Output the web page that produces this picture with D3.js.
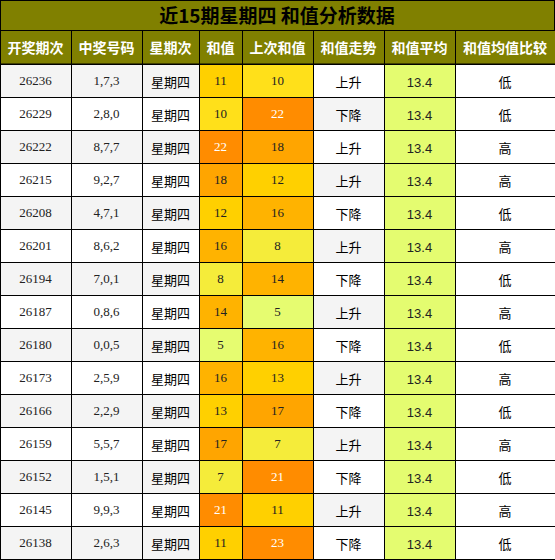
<!DOCTYPE html><html><head><meta charset="utf-8"><script src="https://cdn.jsdelivr.net/npm/d3@7"></script>
<style>body{margin:0;background:#fff}</style></head><body><svg id="c" width="555" height="560"></svg>
<script>
const title="近15期星期四 和值分析数据";
const headers=["开奖期次","中奖号码","星期次","和值","上次和值","和值走势","和值平均","和值均值比较"];
const issues=["26236","26229","26222","26215","26208","26201","26194","26187","26180","26173","26166","26159","26152","26145","26138"];
const numbers=["1,7,3","2,8,0","8,7,7","9,2,7","4,7,1","8,6,2","7,0,1","0,8,6","0,0,5","2,5,9","2,2,9","5,5,7","1,5,1","9,9,3","2,6,3"];
const sums=[11,10,22,18,12,16,8,14,5,16,13,17,7,21,11];
const prevSums=[10,22,18,12,16,8,14,5,16,13,17,7,21,11,23];
const trends=["上升","下降","上升","上升","下降","上升","下降","上升","下降","上升","下降","上升","下降","上升","下降"];
const avg=13.4;
const compare=["低","低","高","高","低","高","低","高","低","高","低","高","低","高","低"];
const edges=[0,71,142,199,242,313,384,455,555];
const svg=d3.select("#c");
const y=d3.scaleBand().domain(d3.range(15)).range([64,559]);
function col(v){if(v<=5)return"#e6fc70";if(v<=8)return"#f5ec3a";if(v<=10)return"#ffe01a";if(v<=13)return"#ffd000";if(v<=16)return"#ffb300";if(v<=18)return"#ffa500";return"#ff8c00";}
svg.append("rect").attr("x",0.5).attr("y",0.5).attr("width",554).attr("height",30).attr("fill","#808000").attr("stroke","#000");
svg.append("text").attr("x",277).attr("y",23).attr("text-anchor","middle").attr("font-family","Noto Sans CJK SC").attr("font-weight","bold").attr("font-size",19).text(title);
headers.forEach((h,i)=>{
 svg.append("rect").attr("x",edges[i]+0.5).attr("y",30.5).attr("width",edges[i+1]-edges[i]).attr("height",33.5).attr("fill","#808000").attr("stroke","#000");
 svg.append("text").attr("x",(edges[i]+edges[i+1])/2).attr("y",53).attr("text-anchor","middle").attr("fill","#fff").attr("font-family","Noto Sans CJK SC").attr("font-weight","bold").attr("font-size",14).text(h);
});
issues.forEach((_,r)=>{
 const base=r%2===0?"#f4f4f4":"#ffffff";
 const cells=[
  [issues[r],base,"#222",true],[numbers[r],base,"#222",true],["星期四",base,"#000",false],
  [sums[r],col(sums[r]),sums[r]>18?"#fff":"#222",true],[prevSums[r],col(prevSums[r]),prevSums[r]>18?"#fff":"#222",true],
  [trends[r],base==="#ffffff"?"#f4f4f4":"#ffffff","#000",false],[avg.toFixed(1),"#e4fc70","#222",false],[compare[r],"#ffffff","#000",false]];
 cells.forEach((c,i)=>{
  svg.append("rect").attr("x",edges[i]+0.5).attr("y",y(r)+0.5).attr("width",edges[i+1]-edges[i]).attr("height",y.bandwidth()).attr("fill",c[1]).attr("stroke","#000");
  svg.append("text").attr("x",(edges[i]+edges[i+1])/2).attr("y",y(r)+(c[3]?21:23)).attr("text-anchor","middle").attr("fill",c[2])
   .attr("font-family",c[3]?"Liberation Serif, serif":(i===6?"Liberation Sans, sans-serif":"Noto Sans CJK SC"))
   .attr("font-size",c[3]?13:13).text(c[0]);
 });
});
</script></body></html>
